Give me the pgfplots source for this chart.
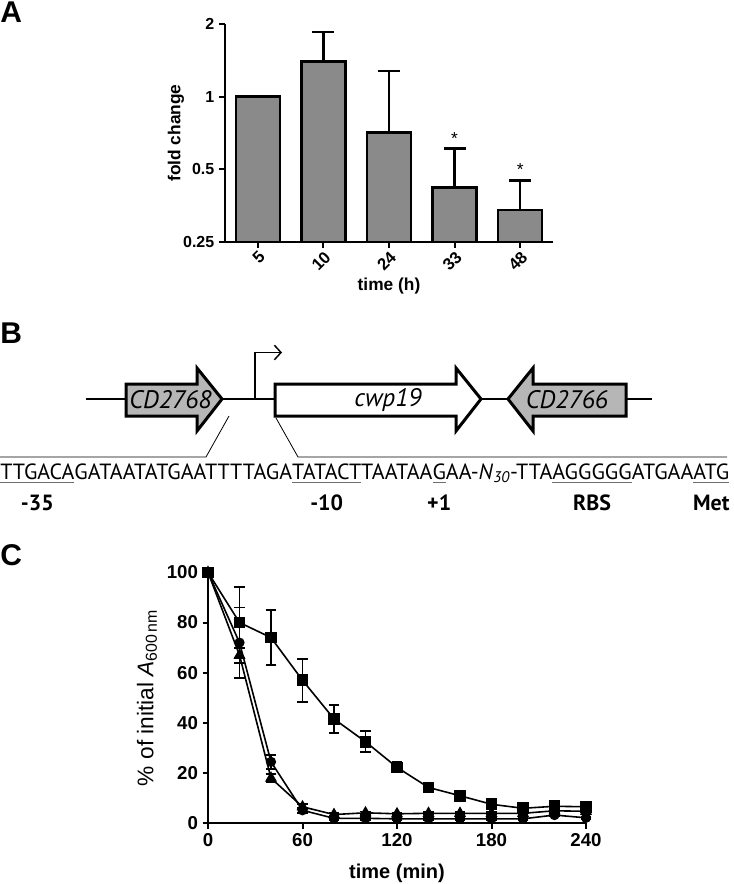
\documentclass[border=0pt]{standalone}
\usepackage{fontspec}
\setmainfont{Liberation Sans}
\newfontfamily\ptsans{PT Sans}
\usepackage{graphicx}
\usepackage{pgfplots}
\pgfplotsset{compat=1.18}
\usetikzlibrary{arrows.meta}
\definecolor{barGray}{RGB}{138,138,138}
\definecolor{geneGray}{RGB}{182,182,182}
\definecolor{ulGray}{RGB}{110,110,110}
\newcommand\ulab[2]{\setbox0=\hbox{#1}\rlap{\textcolor{ulGray}{\rule[-2.6pt]{\wd0}{0.7pt}}}\rlap{\makebox[\wd0][c]{\raisebox{-23.25pt}[0pt][0pt]{\bfseries #2}}}\box0}

\pgfplotstableread{
x y e
0 1.00 0
1 1.40 0.45
2 0.71 0.57
3 0.42 0.19
4 0.34 0.11
}\foldtable

\pgfplotstableread{
t y e
0 100 0
20 80 14
40 74 11
60 57 8.5
80 41.6 5.5
100 32.5 4.2
120 22.3 2
140 14.3 1.5
160 11 1
180 7.6 1
200 6 1
220 6.8 1
240 6.6 1
}\sqtable

\pgfplotstableread{
t y e
0 100 0
20 72 14
40 24.5 2.7
60 5.2 1
80 2 0.5
100 2 0.5
120 1.8 0.5
140 1.8 0.4
160 1.8 0.4
180 1.8 0.4
200 1.8 0.4
220 3.3 0.5
240 2.2 0.5
}\cirtable

\pgfplotstableread{
t y e
0 100 0
20 67 3
40 18 1.5
60 6.6 1
80 3.5 0.5
100 4.2 0.5
120 3.8 0.5
140 4 0.5
160 4 0.5
180 4 0.5
200 4 0.5
220 5 0.5
240 4.8 0.5
}\tritable

\begin{document}
\begin{tikzpicture}
\useasboundingbox (0,0) rectangle (549.75pt,-663pt);

% panel letters
\node[anchor=north west, inner sep=0, font=\fontsize{22.5}{24}\selectfont\bfseries] at (0pt,-1.5pt) {A};
\node[anchor=north west, inner sep=0, font=\fontsize{22.5}{24}\selectfont\bfseries] at (0pt,-242pt) {B};
\node[anchor=north west, inner sep=0, font=\fontsize{22.5}{24}\selectfont\bfseries] at (0pt,-408.2pt) {C};

% ---------------- Panel A
\begin{axis}[
  at={(168.75pt,-181.5pt)}, anchor=south west,
  scale only axis, width=246pt, height=163.5pt,
  xmin=-0.5, xmax=4.5,
  ymode=log, log basis y=2, ymin=0.25, ymax=2,
  log origin y=infty,
  xtick={0,1,2,3,4}, xticklabels={5,10,24,33,48},
  ytick={0.25,0.5,1,2}, yticklabels={0.25,0.5,1,2},
  axis lines=left, axis line style={-, line width=1.5pt},
  tick align=outside, major tick length=4.5pt,
  every tick/.style={black, line width=1.5pt},
  minor tick num=0,
  /pgf/number format/assume math mode=true,
  xticklabel style={rotate=45, anchor=north east, inner sep=1pt, font=\fontsize{12.5}{12.5}\selectfont\bfseries},
  yticklabel style={font=\fontsize{12}{12}\selectfont\bfseries},
  clip=false,
]
\addplot[ybar, bar width=33pt, fill=barGray, draw=black, line width=1.9pt,
  error bars/.cd, y dir=plus, y explicit,
  error bar style={line width=1.9pt, black},
  error mark options={rotate=90, mark size=8.25pt, line width=1.9pt, black}]
  table[x=x, y=y, y error=e] {\foldtable};
\node[font=\fontsize{13}{13}\selectfont, yshift=-2pt] at (axis cs:3,0.686) {*};
\node[font=\fontsize{13}{13}\selectfont, yshift=-2pt] at (axis cs:4,0.51) {*};
\end{axis}
\node[rotate=90, font=\fontsize{13}{13}\selectfont\bfseries] at (132pt,-99.75pt) {fold change};
\node[font=\fontsize{13}{13}\selectfont\bfseries] at (291.75pt,-214.5pt) {time (h)};

% ---------------- Panel B
\begin{scope}[x=0.75pt, y=-0.75pt]
\draw[line width=1.1pt] (85.5,399) -- (652,399);
\draw[line width=2.25pt, fill=geneGray, line join=miter]
  (126,384) -- (197,384) -- (197,368) -- (222,399) -- (197,431) -- (197,416) -- (126,416) -- cycle;
\draw[line width=2.25pt, fill=white, line join=miter]
  (275,384) -- (456,384) -- (456,368) -- (481,399) -- (456,431) -- (456,416) -- (275,416) -- cycle;
\draw[line width=2.25pt, fill=geneGray, line join=miter]
  (626,384) -- (533,384) -- (533,368) -- (508,399) -- (533,431) -- (533,416) -- (626,416) -- cycle;
\draw[line width=1.1pt, -{Straight Barb[length=5pt, width=11pt]}] (255,399) -- (255,352.5) -- (282,352.5);
\draw[line width=0.6pt] (229,416) -- (206,457) -- (0,457);
\draw[line width=0.6pt] (276,418) -- (298,457) -- (727,457);
\node[font=\ptsans\itshape\fontsize{19}{19}\selectfont] at (170.5,400) {CD2768};
\node[font=\ptsans\itshape\fontsize{19}{19}\selectfont] at (388,400) {cwp19};
\node[font=\ptsans\itshape\fontsize{19}{19}\selectfont] at (567,400) {CD2766};
\node[anchor=base west, inner sep=0] at (0,479) {\resizebox{546.75pt}{\height}{\ptsans\fontsize{16.5}{16.5}\selectfont
\ulab{TTGACA}{-35}GATAATATGAATTTTAGA\ulab{TATACT}{-10}TAATAA\ulab{G}{+1}AA-\textit{N}\textsubscript{\textit{30}}-TTA\ulab{AGGGGG}{RBS}ATGAA\ulab{ATG}{Met}}};
\end{scope}

% ---------------- Panel C
\begin{axis}[
  at={(156pt,-617.5pt)}, anchor=south west,
  scale only axis, width=283.5pt, height=188.25pt,
  xmin=0, xmax=240, ymin=0, ymax=100,
  xtick={0,60,120,180,240}, ytick={0,20,40,60,80,100},
  axis lines=left, axis line style={-, line width=1.5pt},
  tick align=outside, major tick length=4pt,
  every tick/.style={black, line width=1.5pt},
  /pgf/number format/assume math mode=true,
  ticklabel style={font=\fontsize{14}{14}\selectfont\bfseries},
  clip=false,
]
\addplot[black, line width=1.2pt, mark=*, mark size=3.2pt,
  error bars/.cd, y dir=both, y explicit,
  error bar style={line width=1.4pt, black},
  error mark options={rotate=90, mark size=4.1pt, line width=1.4pt, black}]
  table[x=t, y=y, y error=e] {\cirtable};
\addplot[black, line width=1.2pt, mark=triangle*, mark size=4pt,
  error bars/.cd, y dir=both, y explicit,
  error bar style={line width=1.4pt, black},
  error mark options={rotate=90, mark size=4.1pt, line width=1.4pt, black}]
  table[x=t, y=y, y error=e] {\tritable};
\addplot[black, line width=1.2pt, mark=square*, mark size=3.75pt,
  error bars/.cd, y dir=both, y explicit,
  error bar style={line width=1.4pt, black},
  error mark options={rotate=90, mark size=4.1pt, line width=1.4pt, black}]
  table[x=t, y=y, y error=e] {\sqtable};
\end{axis}
\node[rotate=90, font=\fontsize{17}{17}\selectfont] at (110.25pt,-523.3pt) {\% of initial \textit{A}\textsubscript{600\,nm}};
\node[font=\fontsize{15}{15}\selectfont\bfseries] at (297.75pt,-654.75pt) {time (min)};
\end{tikzpicture}
\end{document}
